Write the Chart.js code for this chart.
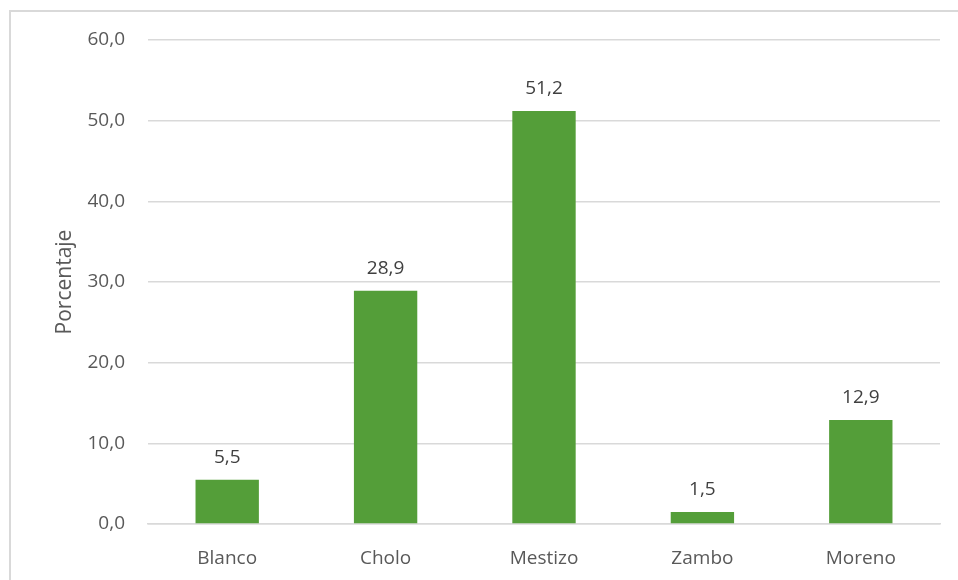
<!DOCTYPE html>
<html>
<head>
<meta charset="utf-8">
<script src="https://cdn.jsdelivr.net/npm/chart.js@4"></script>
<style>
  html, body { margin: 0; padding: 0; background: #fff; }
  #wrap { position: relative; width: 958px; height: 580px; overflow: hidden; }
  #marco { position: absolute; left: 9px; top: 10px; width: 1000px; height: 1000px; border: 2px solid #d9d9d9; box-sizing: border-box; }
  canvas { position: absolute; left: 0; top: 0; }
</style>
</head>
<body>
<div id="wrap">
  <div id="marco"></div>
  <canvas id="grafico" width="958" height="580"></canvas>
</div>
<script>
const categorias = ['Blanco', 'Cholo', 'Mestizo', 'Zambo', 'Moreno']
const porcentajes = [5.5, 28.9, 51.2, 1.5, 12.9]
const tituloY = 'Porcentaje'

const fuente = "'Open Sans', sans-serif"
const fmt = v => v.toFixed(1).replace('.', ',')

// etiquetas encima de cada barra
const etiquetas = {
    id: 'etiquetas',
    afterDatasetsDraw(chart) {
        const ctx = chart.ctx
        const meta = chart.getDatasetMeta(0)
        ctx.save()
        ctx.font = '19px ' + fuente
        ctx.fillStyle = '#404040'
        ctx.textAlign = 'center'
        ctx.textBaseline = 'middle'
        meta.data.forEach((bar, i) => {
            ctx.fillText(fmt(porcentajes[i]), bar.x, bar.y - 22)
        })
        ctx.restore()
    }
}

Chart.defaults.font.family = fuente
Chart.defaults.font.size = 19
Chart.defaults.color = '#595959'

new Chart(document.getElementById('grafico'), {
    type: 'bar',
    data: {
        labels: categorias,
        datasets: [{
            data: porcentajes,
            backgroundColor: '#549e39',
            barPercentage: 0.4,
            categoryPercentage: 1
        }]
    },
    options: {
        responsive: false,
        animation: false,
        layout: { padding: { top: 40, right: 18, bottom: 0, left: 0 } },
        plugins: {
            legend: { display: false },
            tooltip: { enabled: false }
        },
        scales: {
            x: {
                grid: { display: false },
                border: { color: '#d9d9d9', width: 1.5 },
                ticks: { padding: 15, color: '#595959' },
                afterFit: s => { s.height = 56 }
            },
            y: {
                min: 0,
                max: 60,
                ticks: { stepSize: 10, padding: 23, callback: v => fmt(v), color: '#595959' },
                grid: { color: '#d9d9d9', lineWidth: 1.5, drawTicks: false },
                border: { display: false },
                title: {
                    display: true, text: tituloY, color: '#595959',
                    font: { size: 21 },
                    padding: { top: 52, bottom: 0 }
                },
                afterFit: s => { s.width = 148 }
            }
        }
    },
    plugins: [etiquetas]
})
</script>
</body>
</html>
